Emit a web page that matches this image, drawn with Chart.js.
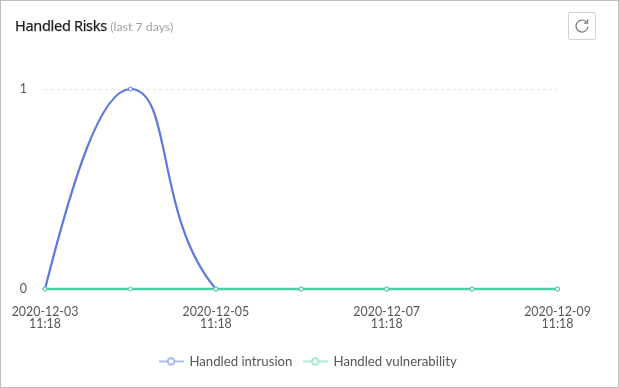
<!DOCTYPE html>
<html><head><meta charset="utf-8">
<style>
html,body{margin:0;padding:0;background:#fff}
#card{position:relative;width:619px;height:388px;box-sizing:border-box;border:1px solid #bdbdbd;overflow:hidden;font-family:Lato,"Noto Sans",sans-serif}
#title{position:absolute;left:14px;top:14px;font-size:14.5px;color:#1f1f1f;white-space:nowrap;font-family:"Noto Sans",sans-serif;letter-spacing:-.3px;-webkit-text-stroke:.25px #1f1f1f}
#title span{font-size:12.3px;color:#a0a0a8;letter-spacing:0;font-family:Lato,sans-serif;-webkit-text-stroke:0}
#btn{position:absolute;left:567px;top:11px;width:28px;height:28px;border:1px solid #d4d4d4;border-radius:2px;box-sizing:border-box}
canvas#c{position:absolute;left:-1px;top:-1px}
</style>
<script src="https://cdn.jsdelivr.net/npm/chart.js@4"></script>
</head><body>
<div id="card">
<canvas id="c" width="619" height="388"></canvas>
<div id="title">Handled Risks <span>(last 7 days)</span></div>
<div id="btn"><svg width="26" height="26" viewBox="0 0 26 26"><path d="M17.8 9.4A6 6 0 1 0 19 13.5" fill="none" stroke="#77777c" stroke-width="1.2"/><path d="M18.6 6.6V10.2H15" fill="none" stroke="#77777c" stroke-width="1.2"/></svg></div>
</div>
<script>
const categories=[["2020-12-03","11:18"],["2020-12-04","11:18"],["2020-12-05","11:18"],["2020-12-06","11:18"],["2020-12-07","11:18"],["2020-12-08","11:18"],["2020-12-09","11:18"]];
const seriesNames=["Handled intrusion","Handled vulnerability"];
const intrusion=[0,1,0,0,0,0,0];
const vulnerability=[0,0,0,0,0,0,0];
const blue="#5b79e0",green="#4ccfa8",lblue="#8ea3ea",lgreen="#8be2c8";
function legendIcon(color){
  const k=document.createElement("canvas");k.width=25;k.height=10;
  const x=k.getContext("2d");x.strokeStyle=color;x.lineWidth=1.4;
  x.beginPath();x.moveTo(0,5);x.lineTo(25,5);x.stroke();
  x.beginPath();x.arc(12.5,5,3.2,0,Math.PI*2);x.fillStyle="#fff";x.fill();x.stroke();
  return k;
}
// The source's smoothing leaves the first rise steeper than a single tension gives.
const riseShape={id:"riseShape",beforeDatasetsDraw(ch){
  const meta=ch.getDatasetMeta(0);
  meta.dataset.updateControlPoints(ch.chartArea,"x");
  const [p0,p1]=meta.data;
  p0.cp2x=p0.x+.32*(p1.x-p0.x);
  p0.cp2y=p0.y+.54*(p1.y-p0.y);
  p1.cp1x=p1.x-.35*(p1.x-p0.x);
}};
new Chart(document.getElementById("c"),{
  type:"line",
  plugins:[riseShape],
  data:{labels:categories,datasets:[
    {label:seriesNames[0],data:intrusion,borderColor:blue,backgroundColor:"#fff",borderWidth:2.2,tension:0.5,pointRadius:2,pointBorderWidth:1,pointBackgroundColor:"#fff",order:2,clip:false,legendIcon:legendIcon(lblue)},
    {label:seriesNames[1],data:vulnerability,borderColor:green,backgroundColor:"#fff",borderWidth:2.4,tension:0.5,pointRadius:2,pointBorderWidth:1,pointBackgroundColor:"#fff",order:1,clip:false,legendIcon:legendIcon(lgreen)}
  ]},
  options:{
    responsive:false,animation:false,
    layout:{padding:{left:0,right:3,top:89,bottom:10}},
    scales:{
      x:{offset:false,grid:{display:false},border:{display:false},
        afterFit(s){s.height=54.8},
        ticks:{maxRotation:0,autoSkip:false,padding:9,color:"#555",font:{family:"Lato",size:12.4,lineHeight:.97},
          callback(v,i){return i%2===0?this.getLabelForValue(v):""}}},
      y:{min:0,max:1,grid:{color:"#e4e4e4",drawTicks:false},border:{display:false,dash:[3,3]},
        afterFit(s){s.width=45},
        ticks:{stepSize:1,padding:18,color:"#555",font:{family:"Lato",size:12.4}}},
      gutter:{position:"right",grid:{display:false},border:{display:false},ticks:{display:false},
        afterFit(s){s.width=58.5}}
    },
    plugins:{tooltip:{enabled:false},
      legend:{position:"bottom",align:"center",
        labels:{usePointStyle:true,pointStyleWidth:23.5,boxHeight:10,padding:11,color:"#555",font:{family:"Lato",size:13.2},
          generateLabels(ch){return ch.data.datasets.map((d,i)=>({text:d.label,pointStyle:d.legendIcon,fontColor:"#555",datasetIndex:i,lineWidth:0,strokeStyle:"transparent",fillStyle:"transparent"}))}}}}
  }
});
</script>
</body></html>
